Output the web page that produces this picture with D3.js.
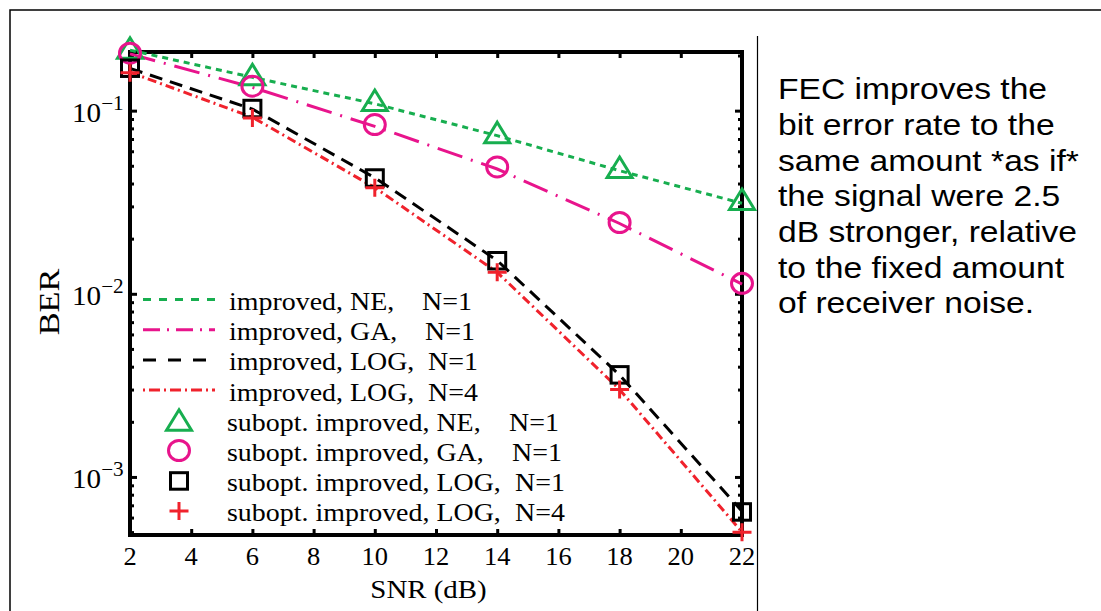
<!DOCTYPE html>
<html><head><meta charset="utf-8">
<script src="https://cdn.jsdelivr.net/npm/d3@7"></script>
<style>body{margin:0;background:#fff}svg{display:block}</style>
</head><body>
<svg id="c" width="1101" height="611"></svg>
<script>
// ---- data ----
const snr = [2, 6, 10, 14, 18, 22];
const lineNE   = [0.214, 0.152, 0.109, 0.073, 0.047, 0.0312];
const lineGA   = [0.204, 0.134, 0.082, 0.048, 0.0242, 0.0113];
const lineLOG1 = [0.170, 0.102, 0.043, 0.0152, 0.0036, 0.00065];
const lineLOG4 = [0.162, 0.092, 0.038, 0.0131, 0.0030, 0.0005];
const markNE   = [0.219, 0.157, 0.1135, 0.0758, 0.0489, 0.0327];
const markGA   = [0.206, 0.136, 0.0839, 0.0493, 0.0245, 0.0114];
const markLOG1 = [0.171, 0.103, 0.043, 0.0152, 0.00362, 0.000646];
const markLOG4 = [0.161, 0.0912, 0.0379, 0.0131, 0.0030, 0.000499];
const xTicks = [2, 4, 6, 8, 10, 12, 14, 16, 18, 20, 22];
const yMajor = [1e-3, 1e-2, 1e-1];
const yMajorExp = ["\u22123", "\u22122", "\u22121"];
const lineNames = ["improved, NE,", "improved, GA,", "improved, LOG,", "improved, LOG,"];
const markNames = ["subopt. improved, NE,", "subopt. improved, GA,", "subopt. improved, LOG,", "subopt. improved, LOG,"];
const seriesN = ["N=1", "N=1", "N=1", "N=4"];
const xLabel = "SNR (dB)";
const yLabel = "BER";
const note = ["FEC improves the", "bit error rate to the", "same amount *as if*", "the signal were 2.5",
              "dB stronger, relative", "to the fixed amount", "of receiver noise."];

// ---- styles ----
const colors = ["#17ae4f", "#e8148c", "#000000", "#f0222c"];
const dashes = ["6,5", "26,9,2,9", "13,8", "9,4,2,4"];
const legendDashes = ["8,8", "17,7,2,7", "13,12", "2,4,11,4"];
const shapes = ["tri", "circ", "sq", "plus"];

const svg = d3.select("#c");
const serif = "'Liberation Serif', 'Times New Roman', serif";
const sans = "'Liberation Sans', Arial, sans-serif";

// outer frame & separator
svg.append("rect").attr("x", 10).attr("y", 10).attr("width", 1100).attr("height", 610)
  .attr("fill", "none").attr("stroke", "#000").attr("stroke-width", 1.5);
svg.append("line").attr("x1", 757.5).attr("x2", 757.5).attr("y1", 36).attr("y2", 611)
  .attr("stroke", "#000").attr("stroke-width", 1.2);

const L = 130, R = 742, T = 52, B = 535;
const x = d3.scaleLinear().domain([2, 22]).range([L, R]);
const y = d3.scaleLog().domain([4.82e-4, 0.209]).range([B, T]);

function stext(g, px, py, str, size, family, anchor, sx) {
  return g.append("text").attr("transform", `translate(${px},${py}) scale(${sx || 1.08},1)`)
    .attr("font-family", family).attr("font-size", size).attr("text-anchor", anchor || "start")
    .attr("fill", "#000").text(str);
}

// minor ticks
const yMinor = [];
for (let e = -4; e <= -1; e++) for (let m = 2; m <= 9; m++) {
  const v = m * Math.pow(10, e);
  if (v > 4.82e-4 && v < 0.209) yMinor.push(v);
}

const axW = 3;
function styleAxis(g) {
  g.select(".domain").remove();
  g.selectAll(".tick line").attr("stroke", "#000").attr("stroke-width", axW);
  g.selectAll(".tick text").remove();
}
svg.append("g").attr("transform", `translate(0,${B})`)
  .call(d3.axisBottom(x).tickValues(xTicks).tickSizeInner(-6).tickSizeOuter(0)).call(styleAxis);
svg.append("g").attr("transform", `translate(0,${T})`)
  .call(d3.axisTop(x).tickValues(xTicks).tickSizeInner(-6).tickSizeOuter(0)).call(styleAxis);
svg.append("g").attr("transform", `translate(${L},0)`)
  .call(d3.axisLeft(y).tickValues(yMajor).tickSizeInner(-7).tickSizeOuter(0)).call(styleAxis);
svg.append("g").attr("transform", `translate(${L},0)`)
  .call(d3.axisLeft(y).tickValues(yMinor).tickSizeInner(-4).tickSizeOuter(0)).call(styleAxis);
svg.append("g").attr("transform", `translate(${R},0)`)
  .call(d3.axisRight(y).tickValues(yMajor).tickSizeInner(-7).tickSizeOuter(0)).call(styleAxis);
svg.append("g").attr("transform", `translate(${R},0)`)
  .call(d3.axisRight(y).tickValues(yMinor).tickSizeInner(-4).tickSizeOuter(0)).call(styleAxis);

svg.append("rect").attr("x", L).attr("y", T).attr("width", R - L).attr("height", B - T)
  .attr("fill", "none").attr("stroke", "#000").attr("stroke-width", 4);

// tick labels
const lab = svg.append("g");
xTicks.forEach(t => stext(lab, x(t), B + 30, String(t), 25, serif, "middle", 1.06));
yMajor.forEach((v, i) => {
  const t = lab.append("text").attr("transform", `translate(72,${y(v) + 11}) scale(1.06,1)`)
    .attr("font-family", serif).attr("font-size", 27.5).attr("fill", "#000");
  t.append("tspan").text("10");
  t.append("tspan").attr("dy", -12).attr("font-size", 20).text(yMajorExp[i]);
});
stext(lab, 428.5, 598, xLabel, 24.5, serif, "middle", 1.18);
lab.append("text").attr("transform", `translate(58.5,302) rotate(-90) scale(1.18,1)`)
  .attr("font-family", serif).attr("font-size", 29).attr("text-anchor", "middle").text(yLabel);

// series lines
const lineData = [lineNE, lineGA, lineLOG1, lineLOG4];
const markData = [markNE, markGA, markLOG1, markLOG4];
const line = d3.line().x(d => x(d[0])).y(d => y(d[1]));
lineData.forEach((vals, i) => {
  svg.append("path").datum(snr.map((s, j) => [s, vals[j]]))
    .attr("d", line).attr("fill", "none").attr("stroke", colors[i])
    .attr("stroke-width", 3).attr("stroke-dasharray", dashes[i]);
});

function marker(g, shape, cx, cy, color) {
  let p;
  if (shape === "tri") p = g.append("path").attr("d", `M${cx},${cy - 10.5}L${cx + 12.5},${cy + 10}L${cx - 12.5},${cy + 10}Z`);
  else if (shape === "circ") p = g.append("ellipse").attr("cx", cx).attr("cy", cy).attr("rx", 10.5).attr("ry", 10);
  else if (shape === "sq") p = g.append("rect").attr("x", cx - 8.5).attr("y", cy - 8).attr("width", 17).attr("height", 16.5);
  else p = g.append("path").attr("d", `M${cx - 9.5},${cy}H${cx + 9.5}M${cx},${cy - 9}V${cy + 9}`);
  p.attr("fill", "none").attr("stroke", color).attr("stroke-width", 3);
}
const mk = svg.append("g");
markData.forEach((vals, i) => {
  snr.forEach((s, j) => marker(mk, shapes[i], x(s), y(vals[j]), colors[i]));
});

// legend
const lg = svg.append("g");
const row0 = 299.5, rowH = 30.2;
const nX = [422, 425, 428, 428, 509, 512, 515, 515];
const LFS = 24.5, LSX = 1.14;
lineNames.forEach((name, i) => {
  const ry = row0 + i * rowH;
  lg.append("line").attr("x1", 143).attr("x2", 215).attr("y1", ry).attr("y2", ry)
    .attr("stroke", colors[i]).attr("stroke-width", 3).attr("stroke-dasharray", legendDashes[i]);
  stext(lg, 229, ry + 10.5, name, LFS, serif, "start", LSX);
  stext(lg, nX[i], ry + 10.5, seriesN[i], LFS, serif, "start", LSX);
});
markNames.forEach((name, i) => {
  const ry = row0 + (i + 4) * rowH;
  marker(lg, shapes[i], 179, ry, colors[i]);
  stext(lg, 227, ry + 10.5, name, LFS, serif, "start", LSX);
  stext(lg, nX[i + 4], ry + 10.5, seriesN[i], LFS, serif, "start", LSX);
});

// note text
const nt = svg.append("g");
note.forEach((s, i) => stext(nt, 778, 99.3 + i * 35.67, s, 29, sans, "start", 1.16));
</script>
</body></html>
